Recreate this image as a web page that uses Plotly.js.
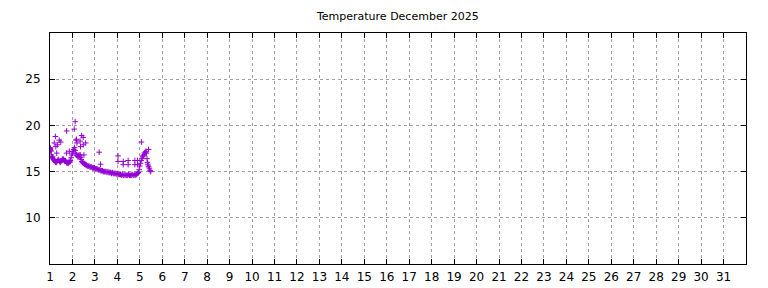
<!DOCTYPE html>
<html>
<head>
<meta charset="utf-8">
<script src="https://cdn.plot.ly/plotly-3.0.1.min.js"></script>
<style>html,body{margin:0;padding:0;background:#fff;} #chart{width:768px;height:288px;}</style>
</head>
<body>
<div id="chart"></div>
<script>
// Day of month (fractional) and temperature readings
const days = [
  1.00,1.01,1.02,1.03,1.04,1.06,1.08,1.10,1.13,1.16,1.19,1.22,1.25,1.28,1.31,1.34,1.37,1.40,1.43,1.46,
  1.49,1.52,1.55,1.58,1.61,1.64,1.67,1.70,1.73,1.76,1.79,1.82,1.85,1.88,1.91,1.94,1.97,2.00,2.03,2.06,
  2.09,2.12,2.15,2.18,2.21,2.24,2.27,2.30,2.33,2.36,2.39,2.42,2.45,2.48,2.51,2.54,2.57,2.60,2.63,2.66,
  2.70,2.74,2.78,2.82,2.86,2.90,2.94,2.98,3.02,3.06,3.10,3.14,3.18,3.22,3.26,3.30,3.34,3.38,3.42,3.46,
  3.50,3.54,3.58,3.62,3.66,3.70,3.74,3.78,3.82,3.86,3.90,3.94,3.98,4.02,4.06,4.10,4.14,4.18,4.22,4.26,
  4.30,4.34,4.38,4.42,4.46,4.50,4.54,4.58,4.62,4.66,4.70,4.74,4.78,4.82,4.86,4.90,4.94,4.97,5.00,5.03,
  5.06,5.09,5.12,5.15,5.18,5.21,5.24,5.27,5.30,5.32,5.34,5.36,5.38,5.40,5.43,5.46,5.49,
  // scattered readings
  1.12,1.19,1.24,1.26,1.30,1.34,1.41,1.48,1.74,1.74,1.86,2.08,2.12,2.16,2.18,2.20,2.34,2.35,2.36,2.41,
  2.48,2.48,2.51,2.59,3.19,3.25,4.03,4.03,4.26,4.26,4.48,4.48,4.78,4.78,4.90,4.90,5.07,5.39
];
const temps = [
  17.6,17.4,17.5,17.3,17.2,16.8,16.6,16.5,16.4,16.3,16.2,16.1,16.0,16.0,16.1,16.2,16.3,16.2,16.1,16.0,
  16.1,16.2,16.3,16.4,16.3,16.2,16.1,16.2,16.0,15.9,16.0,15.9,16.1,16.0,16.2,16.5,16.8,17.0,17.2,17.4,
  17.6,17.3,17.0,16.8,16.7,16.6,16.7,16.8,16.6,16.5,16.3,16.1,16.0,15.9,15.9,15.8,15.8,15.7,15.7,15.6,
  15.6,15.6,15.5,15.5,15.5,15.4,15.4,15.4,15.3,15.3,15.3,15.2,15.2,15.2,15.1,15.1,15.1,15.0,15.0,15.0,
  15.0,14.9,15.0,14.9,14.9,14.9,14.8,14.9,14.8,14.8,14.8,14.8,14.7,14.8,14.7,14.7,14.7,14.6,14.7,14.6,
  14.6,14.7,14.6,14.6,14.6,14.7,14.6,14.6,14.6,14.7,14.6,14.6,14.7,14.6,14.7,14.8,14.9,15.2,15.6,15.9,
  16.2,16.4,16.6,16.7,16.8,17.0,17.1,17.2,17.0,16.4,16.0,15.8,15.6,15.5,15.3,15.1,15.0,
  16.6,18.1,18.8,17.7,17.0,17.9,18.4,18.2,19.4,17.0,17.2,19.6,20.4,18.4,18.5,18.1,18.3,16.8,17.7,18.9,
  18.7,17.9,16.8,18.1,17.1,15.8,16.7,16.1,16.1,15.75,16.2,15.75,16.2,15.75,16.2,15.75,18.2,17.4
];
const dayTicks = [1,2,3,4,5,6,7,8,9,10,11,12,13,14,15,16,17,18,19,20,21,22,23,24,25,26,27,28,29,30,31];
const tempTicks = [10,15,20,25];

const trace = {
  x: days, y: temps, type: 'scatter', mode: 'markers',
  marker: {symbol: 'cross-thin', size: 4, color: '#9400d3', line: {color: '#9400d3', width: 1}},
  hoverinfo: 'x+y'
};

const axisCommon = {
  showline: true, linecolor: '#000', linewidth: 1, mirror: 'ticks',
  ticks: 'inside', ticklen: 5, tickcolor: '#000', tickwidth: 1,
  showgrid: true, gridcolor: '#a0a0a0', griddash: 'dot', gridwidth: 1,
  zeroline: false,
  tickfont: {family: 'DejaVu Sans, sans-serif', size: 12, color: '#000'}
};

const layout = {
  width: 768, height: 288,
  margin: {l: 50, r: 22, t: 33, b: 24},
  paper_bgcolor: '#fff', plot_bgcolor: '#fff',
  showlegend: false,
  title: {text: 'Temperature December 2025', x: 0.518, xanchor: 'center', y: 0.945, yanchor: 'middle',
          font: {family: 'DejaVu Sans, sans-serif', size: 11, color: '#000'}},
  xaxis: Object.assign({}, axisCommon, {range: [1, 32], tickmode: 'array', tickvals: dayTicks, ticktext: dayTicks.map(String), ticklabelstandoff: 2}),
  yaxis: Object.assign({}, axisCommon, {range: [5, 30], tickmode: 'array', tickvals: tempTicks, ticktext: tempTicks.map(String), ticklabelstandoff: 6})
};

Plotly.newPlot('chart', [trace], layout, {displayModeBar: false, staticPlot: true});
</script>
</body>
</html>
